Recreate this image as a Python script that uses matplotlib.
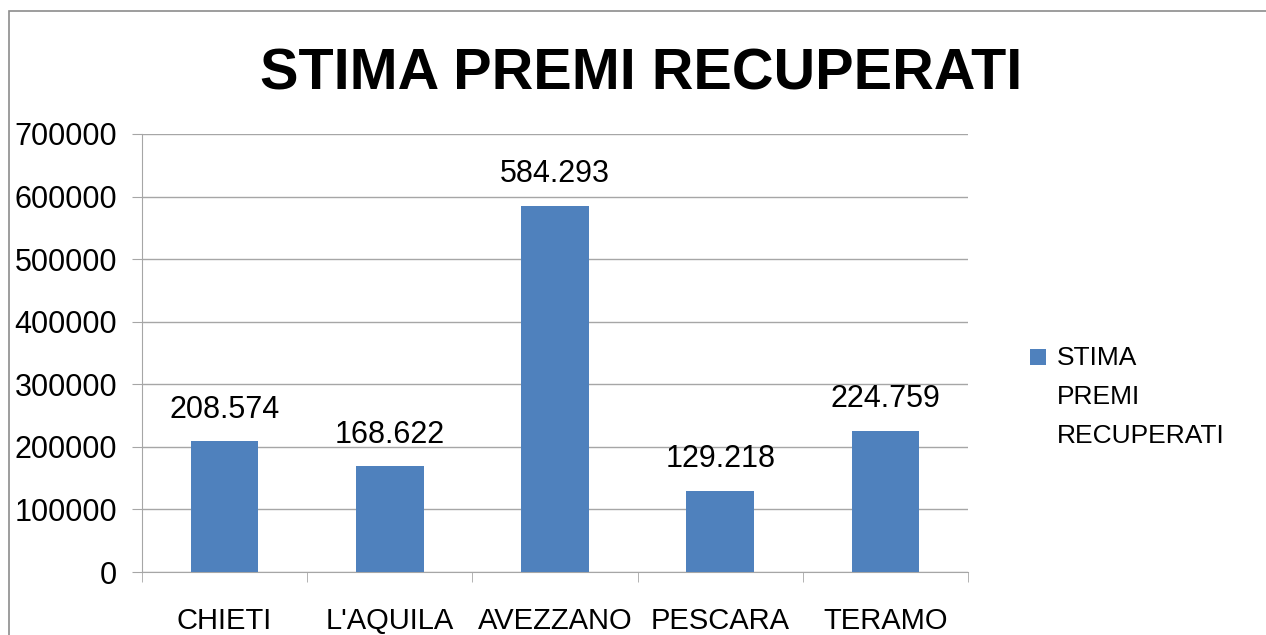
import matplotlib
matplotlib.use("Agg")
import matplotlib.pyplot as plt
from matplotlib.patches import Rectangle
import numpy as np

categories = ["CHIETI", "L'AQUILA", "AVEZZANO", "PESCARA", "TERAMO"]
values = [208574, 168622, 584293, 129218, 224759]
value_labels = ["208.574", "168.622", "584.293", "129.218", "224.759"]
series_name = "STIMA\nPREMI\nRECUPERATI"
title = "STIMA PREMI RECUPERATI"
yticks = [0, 100000, 200000, 300000, 400000, 500000, 600000, 700000]

plt.rcParams['font.family'] = ['Liberation Sans', 'DejaVu Sans']

W, H = 1266, 635
fig = plt.figure(figsize=(W / 100, H / 100), dpi=100)
fig.patch.set_facecolor("white")

# outer chart border
fig.add_artist(Rectangle((9 / W, -0.1), 1.2, 1 - 11 / H + 0.1, transform=fig.transFigure,
                         fill=False, edgecolor="#8c8c8c", linewidth=1.2))

ax = fig.add_axes([142 / W, 63 / H, (968 - 142) / W, (572 - 134) / H])
x = np.arange(len(categories))
bar_color = "#4F81BD"
bars = ax.bar(x, values, width=0.41, color=bar_color, zorder=3, label=series_name)

ax.set_xlim(-0.5, len(categories) - 0.5)
ax.set_ylim(0, 700000)
ax.set_yticks(yticks)
ax.set_yticklabels([str(t) for t in yticks], fontsize=22)
ax.set_xticks(x)
ax.set_xticklabels(categories, fontsize=21)
ax.set_xticks(np.arange(len(categories) + 1) - 0.5, minor=True)

grid_c = "#a6a6a6"
ax.yaxis.grid(True, color=grid_c, linewidth=1.0, zorder=0)
ax.xaxis.grid(False)
for s in ["top", "right"]:
    ax.spines[s].set_visible(False)
ax.spines["left"].set_color(grid_c)
ax.spines["bottom"].set_color(grid_c)
ax.tick_params(axis="y", length=7, color=grid_c, pad=11)
ax.tick_params(axis="x", which="major", length=0, pad=25)
ax.tick_params(axis="x", which="minor", length=7, color=grid_c)

for xi, v, lab in zip(x, values, value_labels):
    ax.annotate(lab, (xi, v), xytext=(0, 23), textcoords="offset points",
                ha="center", va="center", fontsize=22)

fig.text(641 / W, 1 - 74 / H, title, ha="center", va="center",
         fontsize=41.5, fontweight="bold")

leg = fig.legend(loc="center left", bbox_to_anchor=(1006 / W, 1 - 397 / H),
                 frameon=False, fontsize=19, handlelength=0.6, handleheight=0.6,
                 handletextpad=0.42)
for t in leg.get_texts():
    t.set_linespacing(1.8)
fig.canvas.draw()
h = leg.legend_handles[0]
h.set_y(h.get_y() + 29)

fig.savefig("out.png", dpi=100, facecolor="white")
